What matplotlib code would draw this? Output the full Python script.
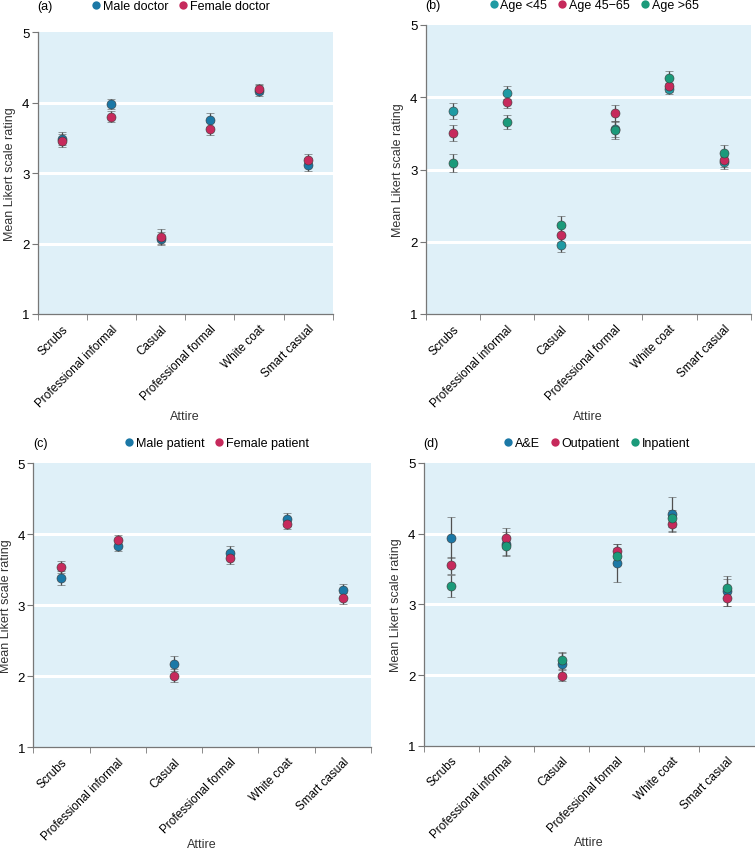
import matplotlib
matplotlib.use('Agg')
import matplotlib.pyplot as plt
from matplotlib.lines import Line2D
import numpy as np

plt.rcParams['font.family'] = ['Liberation Sans', 'DejaVu Sans']

attire = ["Scrubs", "Professional informal", "Casual", "Professional formal", "White coat", "Smart casual"]

# (a) doctor gender
male_doc = [3.49, 3.98, 2.07, 3.76, 4.17, 3.12]
male_doc_err = [0.09, 0.07, 0.09, 0.10, 0.08, 0.09]
female_doc = [3.46, 3.80, 2.10, 3.63, 4.20, 3.19]
female_doc_err = [0.09, 0.08, 0.10, 0.09, 0.07, 0.08]

# (b) patient age
age_u45 = [3.81, 4.06, 1.96, 3.56, 4.12, 3.10]
age_u45_err = [0.11, 0.09, 0.10, 0.11, 0.08, 0.09]
age_45_65 = [3.51, 3.94, 2.10, 3.78, 4.16, 3.13]
age_45_65_err = [0.11, 0.09, 0.10, 0.11, 0.09, 0.10]
age_o65 = [3.09, 3.66, 2.23, 3.54, 4.27, 3.23]
age_o65_err = [0.13, 0.10, 0.12, 0.12, 0.09, 0.11]

# (c) patient gender
male_pat = [3.39, 3.84, 2.18, 3.74, 4.21, 3.21]
male_pat_err = [0.10, 0.08, 0.10, 0.09, 0.09, 0.09]
female_pat = [3.54, 3.92, 2.01, 3.67, 4.15, 3.10]
female_pat_err = [0.09, 0.07, 0.09, 0.09, 0.08, 0.08]

# (d) setting
ae = [3.94, 3.85, 2.16, 3.58, 4.28, 3.19]
ae_err = [0.29, 0.17, 0.15, 0.27, 0.24, 0.21]
outpat = [3.55, 3.94, 1.99, 3.75, 4.13, 3.09]
outpat_err = [0.12, 0.14, 0.08, 0.10, 0.11, 0.12]
inpat = [3.26, 3.83, 2.21, 3.68, 4.22, 3.23]
inpat_err = [0.16, 0.13, 0.12, 0.12, 0.12, 0.13]

BLUE = '#1b78a6'
RED = '#c62a5c'
TEAL = '#1f9aa3'
GREEN = '#1b9a7a'

fig = plt.figure(figsize=(7.55, 8.53), dpi=100)
W, H = 755.0, 853.0


def panel(box, label, series, leg_x, head_y, xpad=1):
    l, t, r, b = box
    ax = fig.add_axes([l / W, 1 - b / H, (r - l) / W, (b - t) / H])
    ax.set_facecolor('#dff0f8')
    x = np.arange(len(attire))
    handles = []
    for vals, errs, col, name in series:
        ax.errorbar(x, vals, yerr=errs, fmt='o', color=col, ecolor='#505050',
                    elinewidth=0.9, capsize=3, capthick=0.9, markersize=6.5,
                    markeredgecolor='#3a3a3a', markeredgewidth=0.4, zorder=3)
        handles.append(Line2D([], [], ls='none', marker='o', color=col,
                              markersize=6, markeredgewidth=0, label=name))
    ax.set_xlim(-0.5, 5.5)
    ax.set_ylim(1, 5)
    ax.set_yticks([1, 2, 3, 4, 5])
    for yv in [2, 3, 4]:
        ax.axhline(yv, color='white', lw=2.2, zorder=1)
    ax.set_xticks(x)
    ax.set_xticklabels(attire, rotation=45, ha='right', rotation_mode='anchor', fontsize=8.5)
    ax.set_xticks(np.arange(-0.5, 6.0, 1.0), minor=True)
    ax.tick_params(axis='x', which='major', length=0, pad=6)
    ax.tick_params(axis='x', which='minor', length=4, color='#777777')
    ax.tick_params(axis='y', length=4, color='#777777', labelsize=9.5, pad=2)
    for s in ['top', 'right']:
        ax.spines[s].set_visible(False)
    for s in ['left', 'bottom']:
        ax.spines[s].set_color('#777777')
        ax.spines[s].set_linewidth(0.9)
    ax.set_ylabel("Mean Likert scale rating", fontsize=9, color='#333333')
    ax.set_xlabel("Attire", fontsize=9, color='#333333', labelpad=xpad)
    fig.text(l / W, 1 - head_y / H, label, fontsize=9, va='center', ha='left')
    ax.legend(handles=handles, loc='center', bbox_to_anchor=(leg_x / W, 1 - head_y / H),
              bbox_transform=fig.transFigure, ncol=len(series), frameon=False,
              handletextpad=0.05, columnspacing=0.7, handlelength=1.0,
              fontsize=9, borderaxespad=0, borderpad=0)
    return ax


panel((37.7, 33.3, 332.7, 315), "(a)",
      [(male_doc, male_doc_err, BLUE, "Male doctor"),
       (female_doc, female_doc_err, RED, "Female doctor")], 180, 7)
panel((425.7, 26, 750.7, 315), "(b)",
      [(age_u45, age_u45_err, TEAL, "Age <45"),
       (age_45_65, age_45_65_err, RED, "Age 45\u221265"),
       (age_o65, age_o65_err, GREEN, "Age >65")], 593, 6)
panel((33.3, 464.3, 371, 748.3), "(c)",
      [(male_pat, male_pat_err, BLUE, "Male patient"),
       (female_pat, female_pat_err, RED, "Female patient")], 216, 444, xpad=-3)
panel((423.7, 464, 754.5, 746.7), "(d)",
      [(ae, ae_err, BLUE, "A&E"),
       (outpat, outpat_err, RED, "Outpatient"),
       (inpat, inpat_err, GREEN, "Inpatient")], 596, 444, xpad=-3)

fig.savefig('out.png', dpi=100)
